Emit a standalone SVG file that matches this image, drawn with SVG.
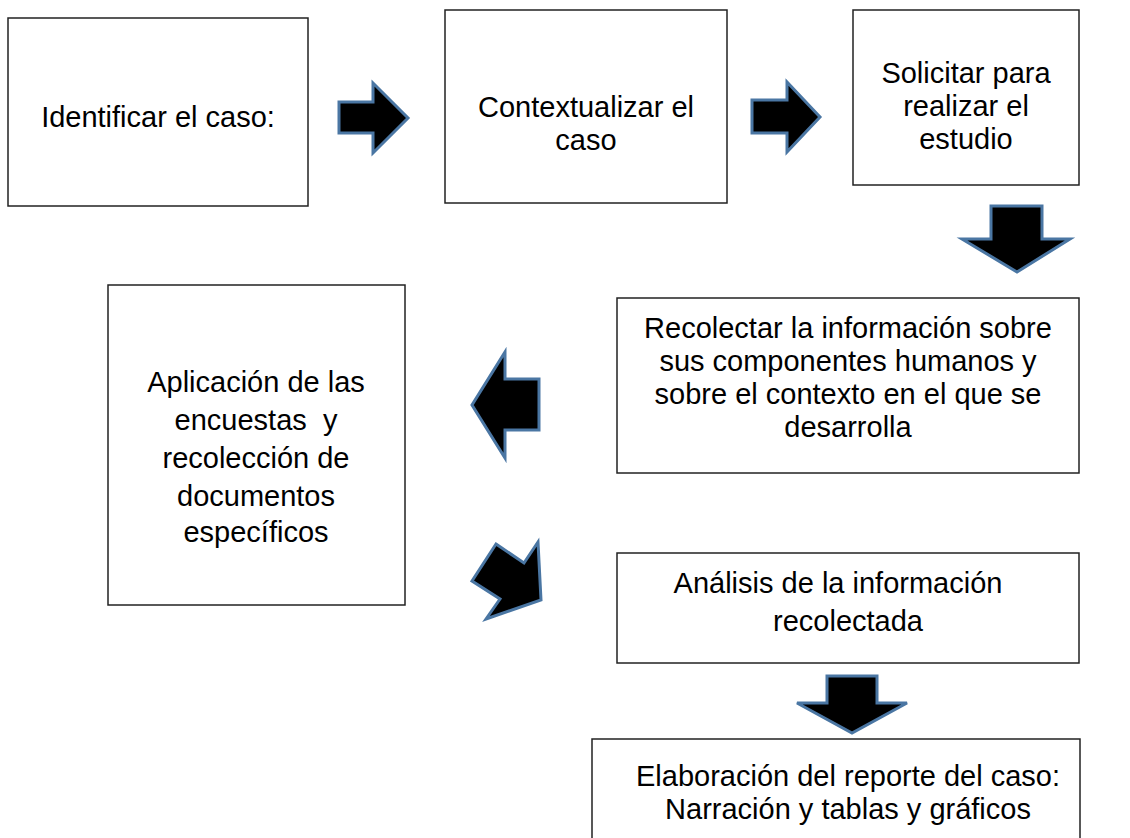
<svg xmlns="http://www.w3.org/2000/svg" width="1130" height="838" viewBox="0 0 1130 838">
<style>
.box{fill:#fff;stroke:#222;stroke-width:1.5}
.t{font-family:"Liberation Sans",Arial,sans-serif;font-size:29px;fill:#000;text-anchor:middle;white-space:pre}
.arr{fill:#000;stroke:#4a76a3;stroke-width:3;stroke-linejoin:miter}
</style>
<rect width="1130" height="838" fill="#fff"/>
<g id="n1"><rect class="box" x="8" y="18" width="300" height="188"/><text class="t" x="158" y="127">Identificar el caso:</text></g>
<g id="n2"><rect class="box" x="445" y="10" width="282" height="193"/><text class="t" x="586" y="117">Contextualizar el</text><text class="t" x="586" y="150">caso</text></g>
<g id="n3"><rect class="box" x="853" y="10" width="226" height="175"/><text class="t" x="966" y="83">Solicitar para</text><text class="t" x="966" y="116">realizar el</text><text class="t" x="966" y="149">estudio</text></g>
<g id="n4"><rect class="box" x="617" y="298" width="462" height="175"/><text class="t" x="848" y="338">Recolectar la información sobre</text><text class="t" x="848" y="371">sus componentes humanos y</text><text class="t" x="848" y="404">sobre el contexto en el que se</text><text class="t" x="848" y="437">desarrolla</text></g>
<g id="n5"><rect class="box" x="108" y="285" width="297" height="320"/><text class="t" x="256" y="392">Aplicación de las</text><text class="t" x="256" y="430" xml:space="preserve">encuestas  y</text><text class="t" x="256" y="468">recolección de</text><text class="t" x="256" y="506">documentos</text><text class="t" x="256" y="542">específicos</text></g>
<g id="n6"><rect class="box" x="617" y="553" width="462" height="110"/><text class="t" x="838" y="593">Análisis de la información</text><text class="t" x="848" y="631">recolectada</text></g>
<g id="n7"><rect class="box" x="592" y="739" width="488" height="130"/><text class="t" x="848" y="786">Elaboración del reporte del caso:</text><text class="t" x="848" y="819">Narración y tablas y gráficos</text></g>
<g id="connectors">
<polygon class="arr" points="339,102 373,102 373,83 408,118 373,153 373,133 339,133"/>
<polygon class="arr" points="752,100 787,100 787,82 820,117 787,152 787,133 752,133"/>
<polygon class="arr" points="991,206 1042,206 1042,239 1070,239 1017,272 962,239 991,239"/>
<polygon class="arr" points="539,379 505,379 505,352 472,405 505,458 505,430 539,430"/>
<polygon class="arr" points="496,544 524,563 538,542 541,600 486,619 500,599 472,581"/>
<polygon class="arr" points="827,676 877,676 877,703 907,703 852,733 797,703 827,703"/>
</g>
</svg>
